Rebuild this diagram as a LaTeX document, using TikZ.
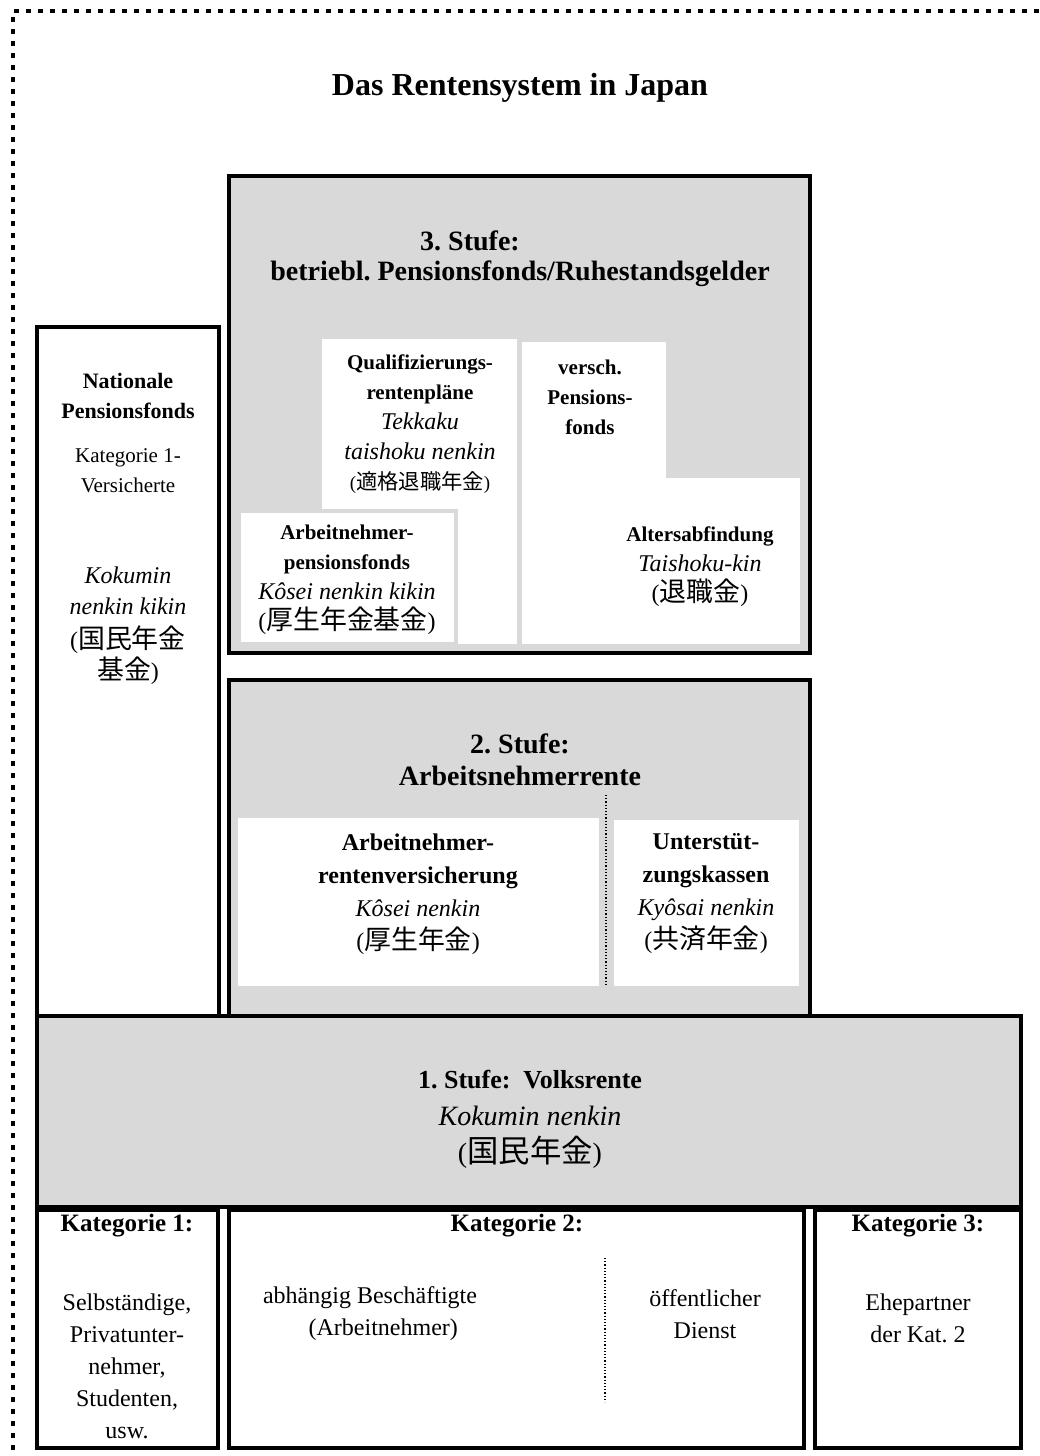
\documentclass[tikz,border=0pt]{standalone}
\usepackage{fontspec}
\setmainfont{Liberation Serif}
\newfontfamily\jpfont[Scale=1.12]{Noto Sans CJK JP}
\newcommand{\jp}[1]{{\jpfont #1}}
\newcommand{\ital}[1]{{\fontsize{12}{14}\selectfont\itshape #1}}
\definecolor{stufegray}{RGB}{217,217,217}
\frenchspacing

\begin{document}
\begin{tikzpicture}[x=0.5pt,y=-0.5pt,
  stufe box/.style={draw,line width=2pt,fill=stufegray},
  kat box/.style={draw,line width=2pt,fill=white},
  white box/.style={fill=white},
  trenner/.style={densely dotted,line width=0.6pt},
  rahmen/.style={line width=2.3pt,dash pattern=on 2.3pt off 3.7pt},
  title node/.style={font=\fontsize{16}{19}\selectfont\bfseries},
  head node/.style={align=center,font=\fontsize{14}{16}\selectfont\bfseries},
  sub node/.style={align=center,font=\fontsize{10.5}{15}\selectfont,inner sep=0pt},
  mid node/.style={align=center,font=\fontsize{12}{16.5}\selectfont,inner sep=0pt},
  low node/.style={align=center,font=\fontsize{13}{18.5}\selectfont,inner sep=0pt},
  kat node/.style={align=center,font=\fontsize{12}{16}\selectfont,inner sep=0pt},
  kat head/.style={font=\fontsize{12.5}{15}\selectfont\bfseries,inner sep=0pt}]
  \useasboundingbox (0,0) rectangle (1039,1456);
  \draw[rahmen] (1039,11) -- (13,11) -- (13,1456);

  % 3. Stufe
  \draw[stufe box] (229,176) rectangle (810,653);
  \fill[white box] (322,339) rectangle (517,644);
  \fill[white box] (522,342) rectangle (666,644);
  \fill[white box] (600,478) rectangle (800,644);
  \draw[white box,draw=stufegray,line width=2pt] (239,511) rectangle (456,644);

  % 2. Stufe
  \draw[stufe box] (229,680) rectangle (810,1016);
  \fill[white box] (238,818) rectangle (599,986);
  \fill[white box] (614,820) rectangle (799,986);
  \coordinate (s2top) at (606,795);
  \coordinate (s2bot) at (606,985);
  \draw[trenner] (s2top) -- (s2bot);

  % Nationale Pensionsfonds
  \draw[kat box] (37,327) rectangle (218.5,1016);

  % 1. Stufe
  \draw[stufe box] (37,1016) rectangle (1021,1207);

  % Kategorien
  \draw[kat box] (37,1210) rectangle (218,1448);
  \draw[kat box] (229,1210) rectangle (804,1448);
  \draw[kat box] (815,1210) rectangle (1021,1448);
  \coordinate (k2top) at (605,1258);
  \coordinate (k2bot) at (605,1402);
  \draw[trenner] (k2top) -- (k2bot);

  \node[title node] (titel) at (520,88) {Das Rentensystem in Japan};
  \node[head node] (stufe3a) at (470,241) {3. Stufe:};
  \node[head node] (stufe3b) at (520,274) {betriebl. Pensionsfonds/Ruhestandsgelder};
  \node[sub node] (qualif) at (420,424) {\textbf{Qualifizierungs-}\\\textbf{rentenpläne}\\\ital{Tekkaku}\\\ital{taishoku nenkin}\\{\fontsize{9.5}{12}\selectfont(\jp{適格退職年金})}};
  \node[sub node] (versch) at (590,397) {\textbf{versch.}\\\textbf{Pensions-}\\\textbf{fonds}};
  \node[sub node] (aepf) at (347,580) {\textbf{Arbeitnehmer-}\\\textbf{pensionsfonds}\\\ital{Kôsei nenkin kikin}\\{\fontsize{12}{14}\selectfont(\jp{厚生年金基金})}};
  \node[sub node] (alters) at (700,567) {\textbf{Altersabfindung}\\\ital{Taishoku-kin}\\{\fontsize{12}{14}\selectfont(\jp{退職金})}};

  \node[head node] (stufe2) at (520,760) {2. Stufe:\\Arbeitsnehmerrente};
  \node[mid node] (aerv) at (418,894) {\textbf{Arbeitnehmer-}\\\textbf{rentenversicherung}\\\textit{Kôsei nenkin}\\(\jp{厚生年金})};
  \node[mid node] (unterst) at (706,894) {\textbf{Unterstüt-}\\\textbf{zungskassen}\\\textit{Kyôsai nenkin}\\(\jp{共済年金})};

  \node[sub node] (natA) at (128,396) {\fontsize{11}{15}\selectfont\textbf{Nationale}\\\fontsize{11}{15}\selectfont\textbf{Pensionsfonds}};
  \node[sub node] (natB) at (128,471) {Kategorie 1-\\Versicherte};
  \node[sub node,font=\fontsize{12}{15.5}\selectfont] (natC) at (128,626) {\textit{Kokumin}\\\textit{nenkin kikin}\\[1.5pt](\jp{国民年金}\\\jp{基金})};

  \node[low node] (stufe1) at (530,1119) {\textbf{1. Stufe:\ \ Volksrente}\\{\fontsize{14}{17}\selectfont\itshape Kokumin nenkin}\\{\fontsize{14}{17}\selectfont(\jp{国民年金})}};

  \node[kat head] (kat1) at (127,1226) {Kategorie 1:};
  \node[kat node] (kat1text) at (127,1366) {Selbständige,\\Privatunter-\\nehmer,\\Studenten,\\usw.};
  \node[kat head] (kat2) at (517,1226) {Kategorie 2:};
  \node[kat node,align=left] (kat2a) at (370,1314) {abhängig Beschäftigte\\\hspace*{1.9em}(Arbeitnehmer)};
  \node[kat node] (kat2b) at (705,1314) {öffentlicher\\Dienst};
  \node[kat head] (kat3) at (918,1226) {Kategorie 3:};
  \node[kat node] (kat3text) at (918,1318) {Ehepartner\\der Kat. 2};
\end{tikzpicture}
\end{document}
